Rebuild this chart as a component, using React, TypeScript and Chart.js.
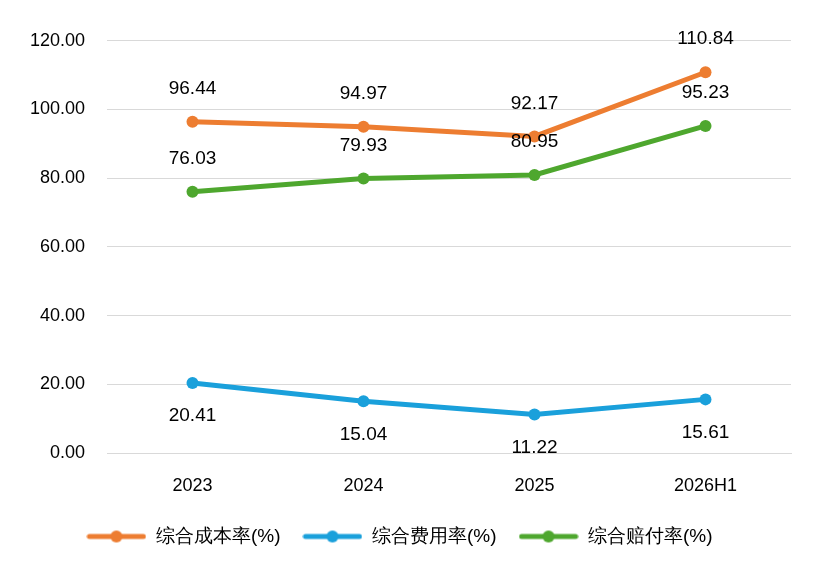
import React, { useEffect, useRef } from "react";
import { Chart, registerables } from "chart.js";
Chart.register(...registerables);

const categories = ["2023", "2024", "2025", "2026H1"];
const costRate = [96.44, 94.97, 92.17, 110.84];
const expenseRate = [20.41, 15.04, 11.22, 15.61];
const lossRate = [76.03, 79.93, 80.95, 95.23];
const seriesNames = ["综合成本率(%)", "综合费用率(%)", "综合赔付率(%)"];
const colors = ["#ED7D31", "#1AA0DB", "#4EA72E"];
const labelBelow = [false, true, false];

function legendIcon(color: string) {
  const c = document.createElement("canvas");
  c.width = 60; c.height = 16;
  const g = c.getContext("2d")!;
  g.strokeStyle = color; g.lineWidth = 5; g.lineCap = "round";
  g.beginPath(); g.moveTo(3, 8); g.lineTo(57, 8); g.stroke();
  g.fillStyle = color; g.beginPath(); g.arc(30, 8, 6, 0, Math.PI * 2); g.fill();
  return c;
}

const FONT = "'Liberation Sans', Arial, sans-serif";

const labelPlugin = {
  id: "vlabels",
  afterDatasetsDraw(chart: any) {
    const ctx = chart.ctx;
    ctx.save();
    ctx.font = `19px ${FONT}`;
    ctx.fillStyle = "#000";
    ctx.textAlign = "center";
    ctx.textBaseline = "middle";
    chart.data.datasets.forEach((ds: any, i: number) => {
      chart.getDatasetMeta(i).data.forEach((pt: any, j: number) => {
        const dy = labelBelow[i] ? 33 : -33;
        ctx.fillText(ds.data[j].toFixed(2), pt.x, pt.y + dy);
      });
    });
    ctx.restore();
  },
};

export default function App() {
  const ref = useRef<HTMLCanvasElement>(null);
  useEffect(() => {
    const data = [costRate, expenseRate, lossRate];
    const chart = new Chart(ref.current!, {
      type: "line",
      data: {
        labels: categories,
        datasets: data.map((d, i) => ({
          label: seriesNames[i],
          data: d,
          borderColor: colors[i],
          backgroundColor: colors[i],
          borderWidth: 5,
          pointRadius: 6,
          pointBackgroundColor: colors[i],
          pointBorderWidth: 0,
          pointStyle: "circle",
          tension: 0,
        })),
      },
      options: {
        animation: false,
        responsive: false,
        layout: { padding: { top: 12, right: 21, left: 0, bottom: 12 } },
        plugins: {
          legend: {
            position: "bottom",
            labels: {
              usePointStyle: true,
              pointStyleWidth: 60,
              font: { size: 19, family: FONT },
              color: "#000",
              padding: 22,
              generateLabels: (ch: any) =>
                ch.data.datasets.map((ds: any, i: number) => ({
                  text: ds.label,
                  fillStyle: colors[i],
                  strokeStyle: colors[i],
                  pointStyle: legendIcon(colors[i]),
                  datasetIndex: i,
                  hidden: false,
                  fontColor: "#000",
                })),
            },
          },
          tooltip: { enabled: false },
        },
        scales: {
          x: {
            offset: true,
            grid: { display: false },
            border: { color: "#d9d9d9" },
            ticks: { font: { size: 18, family: FONT }, color: "#000", padding: 14 },
            afterFit: (a: any) => { a.height = 52; },
          },
          y: {
            min: 0, max: 120,
            grid: { color: "#d9d9d9", drawTicks: false },
            border: { display: false },
            ticks: {
              stepSize: 20,
              font: { size: 18, family: FONT },
              color: "#000",
              padding: 22,
              callback: (v: any) => Number(v).toFixed(2),
            },
            afterFit: (a: any) => { a.width = 99; },
          },
        },
      },
      plugins: [labelPlugin],
    });
    return () => chart.destroy();
  }, []);
  return <canvas ref={ref} width={804} height={560} />;
}
